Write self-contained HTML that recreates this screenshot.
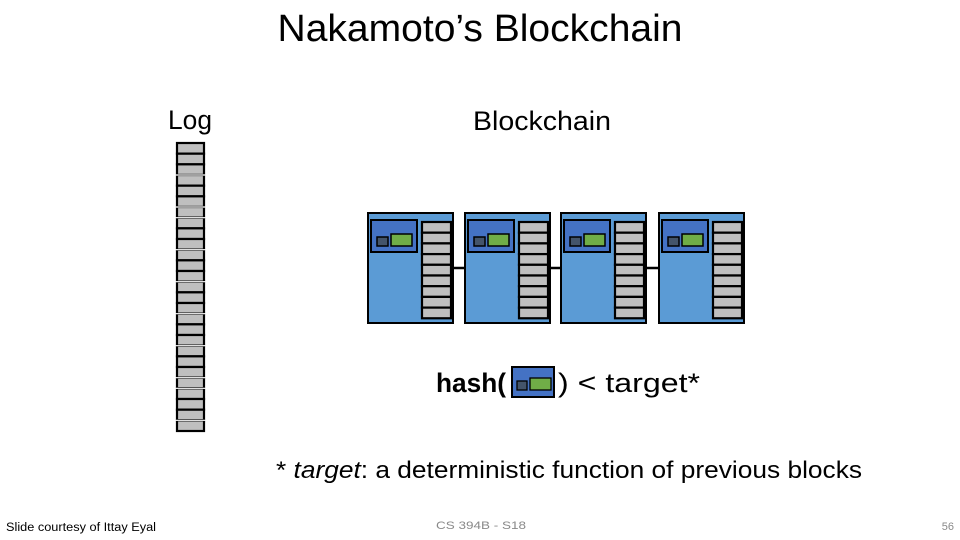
<!DOCTYPE html>
<html><head><meta charset="utf-8"><style>
html,body{margin:0;padding:0;background:#fff;}
svg{display:block;font-family:"Liberation Sans",sans-serif;}
</style></head><body>
<svg width="960" height="540" viewBox="0 0 960 540" xmlns="http://www.w3.org/2000/svg">
<defs>
<g id="row"><rect x="0" y="0" width="27" height="10.67" fill="#bfbfbf" stroke="#000" stroke-width="2.2"/></g>
<g id="lrow"><rect x="0" y="0" width="29" height="10.67" fill="#bfbfbf" stroke="#000" stroke-width="2.2"/></g>
<g id="blk">
<rect x="0" y="0" width="85" height="110" fill="#5b9bd5" stroke="#000" stroke-width="2"/>
<rect x="3" y="7" width="46" height="32" fill="#4472c4" stroke="#000" stroke-width="2"/>
<rect x="9" y="24" width="11" height="9" fill="#44546a" stroke="#000" stroke-width="1.5"/>
<rect x="23" y="21" width="21" height="12" fill="#70ad47" stroke="#000" stroke-width="1.5"/>
<use href="#lrow" x="54" y="9"/><use href="#lrow" x="54" y="19.7"/><use href="#lrow" x="54" y="30.4"/>
<use href="#lrow" x="54" y="41.1"/><use href="#lrow" x="54" y="51.8"/><use href="#lrow" x="54" y="62.5"/>
<use href="#lrow" x="54" y="73.2"/><use href="#lrow" x="54" y="83.9"/><use href="#lrow" x="54" y="94.6"/>
</g>
</defs>
<text x="480" y="41" font-size="38" text-anchor="middle" fill="#000" textLength="405" lengthAdjust="spacingAndGlyphs">Nakamoto’s Blockchain</text>
<text x="190" y="129" font-size="27" text-anchor="middle" textLength="44" lengthAdjust="spacingAndGlyphs">Log</text>
<text x="542" y="130" font-size="27" text-anchor="middle" textLength="138" lengthAdjust="spacingAndGlyphs">Blockchain</text>

<g transform="translate(177,143)">
<use href="#row" y="0"/><use href="#row" y="10.67"/><use href="#row" y="21.33"/>
<use href="#row" y="32"/><use href="#row" y="42.67"/><use href="#row" y="53.33"/>
<use href="#row" y="64"/><use href="#row" y="74.67"/><use href="#row" y="85.33"/>
<use href="#row" y="96"/><use href="#row" y="106.67"/><use href="#row" y="117.33"/>
<use href="#row" y="128"/><use href="#row" y="138.67"/><use href="#row" y="149.33"/>
<use href="#row" y="160"/><use href="#row" y="170.67"/><use href="#row" y="181.33"/>
<use href="#row" y="192"/><use href="#row" y="202.67"/><use href="#row" y="213.33"/>
<use href="#row" y="224"/><use href="#row" y="234.67"/><use href="#row" y="245.33"/>
<use href="#row" y="256"/><use href="#row" y="266.67"/><use href="#row" y="277.33"/>
<g stroke="#fff" stroke-width="1.2">
<line x1="-2" x2="29" y1="32" y2="32"/><line x1="-2" x2="29" y1="64" y2="64"/><line x1="-2" x2="29" y1="74.67" y2="74.67"/>
<line x1="-2" x2="29" y1="106.67" y2="106.67"/><line x1="-2" x2="29" y1="138.67" y2="138.67"/><line x1="-2" x2="29" y1="170.67" y2="170.67"/>
<line x1="-2" x2="29" y1="202.67" y2="202.67"/><line x1="-2" x2="29" y1="234.67" y2="234.67"/><line x1="-2" x2="29" y1="245.33" y2="245.33"/>
<line x1="-2" x2="29" y1="277.33" y2="277.33"/>
</g>
</g>

<g stroke="#000" stroke-width="2.5">
<line x1="453" y1="268" x2="465" y2="268"/>
<line x1="550" y1="268" x2="561" y2="268"/>
<line x1="646" y1="268" x2="658" y2="268"/>
</g>
<use href="#blk" x="368" y="213"/>
<use href="#blk" x="465" y="213"/>
<use href="#blk" x="561" y="213"/>
<use href="#blk" x="659" y="213"/>

<text x="436" y="392" font-size="27" font-weight="bold" textLength="70" lengthAdjust="spacingAndGlyphs">hash(</text>
<rect x="512" y="367" width="42" height="30" fill="#4472c4" stroke="#000" stroke-width="2"/>
<rect x="517" y="381" width="10" height="9" fill="#44546a" stroke="#000" stroke-width="1.3"/>
<rect x="530" y="378" width="21" height="12" fill="#70ad47" stroke="#000" stroke-width="1.3"/>
<text x="558" y="392" font-size="27" textLength="142" lengthAdjust="spacingAndGlyphs">) &lt; target*</text>

<text x="276" y="478" font-size="24" textLength="586" lengthAdjust="spacingAndGlyphs">* <tspan font-style="italic">target</tspan>: a deterministic function of previous blocks</text>
<text x="6" y="531" font-size="11.5" textLength="150" lengthAdjust="spacingAndGlyphs">Slide courtesy of Ittay Eyal</text>
<text x="436" y="529" font-size="11" fill="#898989" textLength="90" lengthAdjust="spacingAndGlyphs">CS 394B - S18</text>
<text x="954" y="530" font-size="11" fill="#898989" text-anchor="end">56</text>
</svg>
</body></html>
